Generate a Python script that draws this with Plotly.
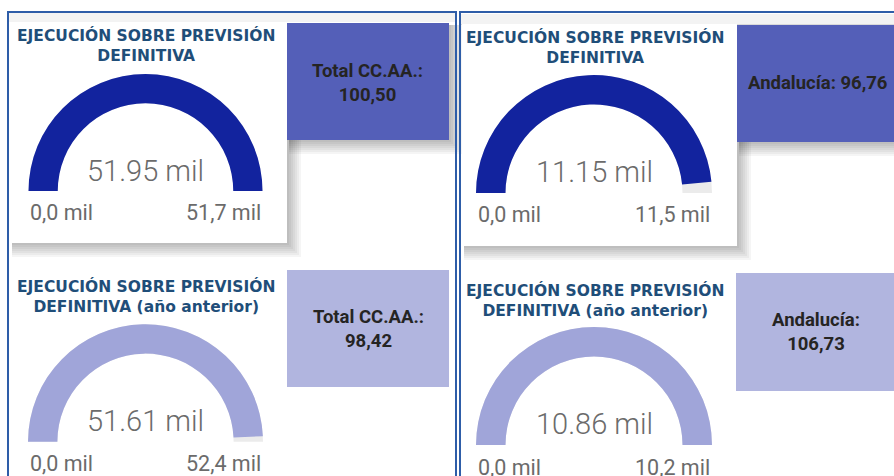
import plotly.graph_objects as go

W, H = 894, 476

# Gauge data (thousands)
gauge_titles = [
    "EJECUCIÓN SOBRE PREVISIÓN<br>DEFINITIVA",
    "EJECUCIÓN SOBRE PREVISIÓN<br>DEFINITIVA",
    "EJECUCIÓN SOBRE PREVISIÓN<br>DEFINITIVA (año anterior)",
    "EJECUCIÓN SOBRE PREVISIÓN<br>DEFINITIVA (año anterior)",
]
gauge_values = [51.95, 11.15, 51.61, 10.86]
gauge_targets = [51.7, 11.5, 52.4, 10.2]
gauge_colors = ["#12239E", "#12239E", "#A0A5D9", "#A0A5D9"]

# KPI cards
kpi_labels = ["Total CC.AA.:<br>100,50", "Andalucía: 96,76",
              "Total CC.AA.:<br>98,42", "Andalucía:<br>106,73"]
kpi_colors = ["#545FB8", "#545FB8", "#B1B5DF", "#B1B5DF"]

# layout geometry in pixels
gauge_boxes = [  # left, right, top, base
    (28, 263, 74, 191),
    (476, 712, 75, 193),
    (28, 263, 324, 442),
    (476, 712, 327, 445),
]
value_y = [171, 172, 421, 424]
label_y = [213, 215, 463, 467]
title_pos = [(146, 46), (595, 48), (146, 296), (595, 300)]
kpi_boxes = [(287, 449, 23, 140), (737, 900, 25, 142),
             (287, 449, 270, 387), (736, 900, 273, 391)]
kpi_text_pos = [(367, 83), (818, 83), (368, 329), (816, 332)]
cards = [(10, 287, 22, 243), (462, 737, 24, 246)]


def px(x):
    return x / W


def py(y):
    return 1 - y / H


def rect(x0, x1, y0, y1, fill, line=None, lw=0):
    return dict(type="rect", xref="paper", yref="paper", layer="below",
                x0=px(x0), x1=px(x1), y0=py(y1), y1=py(y0),
                fillcolor=fill, line=dict(width=lw, color=line or fill))


def fmt_es(v):
    return f"{v:.1f}".replace(".", ",") + " mil"


def text(x, y, s, size, color, family="Roboto", anchor="center", weight=None):
    f = dict(family=family, size=size, color=color)
    if weight:
        f["weight"] = weight
    return dict(x=px(x), y=py(y), xref="paper", yref="paper", text=s,
                showarrow=False, xanchor=anchor, yanchor="middle",
                align="center", font=f)


fig = go.Figure()
shapes = []

# light strip along the top of both panels
shapes.append(rect(9, 455, 13, 22, "#F3F3F3"))
shapes.append(rect(461, 900, 14, 24, "#F3F3F3"))
shapes.append(dict(type="line", xref="paper", yref="paper", layer="below",
                   x0=px(461), x1=1, y0=py(24.5), y1=py(24.5),
                   line=dict(color="#DADADA", width=1)))

# soft drop shadows for cards and KPI tiles of the top row
for (x0, x1, y0, y1) in cards + kpi_boxes[:2]:
    for k in range(2, 16, 2):
        shapes.append(rect(x0 + 2, x1 + k, y0 + 2, y1 + k,
                           "rgba(0,0,0,0.04)"))
for (x0, x1, y0, y1) in cards:
    shapes.append(rect(x0, x1, y0, y1, "#FFFFFF"))

for (x0, x1, y0, y1), c in zip(kpi_boxes, kpi_colors):
    shapes.append(rect(x0, x1, y0, y1, c))

# panel frames
shapes.append(rect(8, 456, 12, 490, "rgba(0,0,0,0)", "#2E5DA8", 2))
shapes.append(rect(460, 910, 12, 490, "rgba(0,0,0,0)", "#2E5DA8", 2))

annotations = []
for i in range(4):
    l, r, t, b = gauge_boxes[i]
    val, tgt = gauge_values[i], gauge_targets[i]
    fig.add_trace(go.Indicator(
        mode="gauge",
        value=val,
        domain=dict(x=[px(l), px(r)], y=[py(b), py(t)]),
        gauge=dict(
            shape="angular",
            axis=dict(range=[0, max(tgt, val)], visible=False,
                      showticklabels=False, ticks=""),
            bar=dict(color=gauge_colors[i], thickness=1, line=dict(width=0)),
            bgcolor="#EBEBEB",
            borderwidth=0,
        ),
    ))
    annotations.append(text((l + r) / 2, value_y[i], f"{val:.2f} mil", 29,
                            "#6B6B6B", weight=300))
    annotations.append(text(l, label_y[i], "0,0 mil", 21.5, "#6B6B6B",
                            anchor="left"))
    annotations.append(text(r, label_y[i], fmt_es(tgt), 21.5, "#6B6B6B",
                            anchor="right"))
    tx, ty = title_pos[i]
    annotations.append(text(tx, ty, "<b>" + gauge_titles[i] + "</b>", 15.5,
                            "#1F4E79", family="DejaVu Sans"))
    kx, ky = kpi_text_pos[i]
    annotations.append(text(kx, ky, "<b>" + kpi_labels[i] + "</b>", 18.5,
                            "#252423"))

fig.update_layout(
    width=W, height=H,
    margin=dict(l=0, r=0, t=0, b=0),
    paper_bgcolor="#FFFFFF",
    plot_bgcolor="#FFFFFF",
    shapes=shapes,
    annotations=annotations,
    showlegend=False,
)

fig.write_html("out.html")
